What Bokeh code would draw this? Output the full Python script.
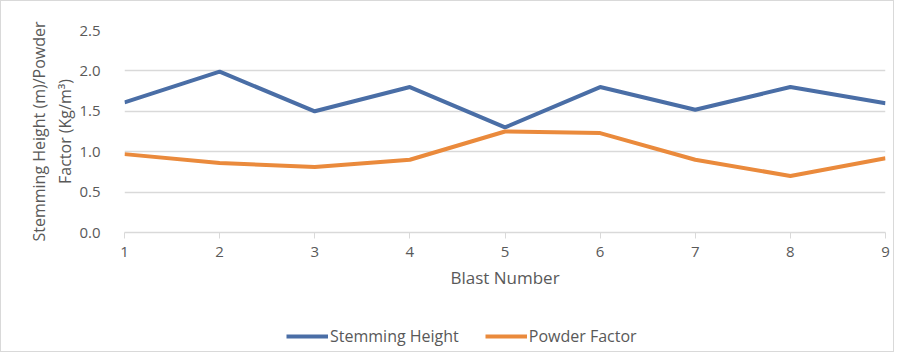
from bokeh.plotting import figure
from bokeh.layouts import column
from bokeh.models import (ColumnDataSource, Legend, LegendItem, FixedTicker, Range1d,
                          CustomJSTickFormatter)
from bokeh.embed import file_html
from bokeh.resources import INLINE

blast = [1, 2, 3, 4, 5, 6, 7, 8, 9]
stemming_height = [1.61, 1.99, 1.50, 1.80, 1.30, 1.80, 1.52, 1.80, 1.60]
powder_factor = [0.97, 0.86, 0.81, 0.90, 1.25, 1.23, 0.90, 0.70, 0.92]
y_ticks = [0.0, 0.5, 1.0, 1.5, 2.0, 2.5]
series_names = ["Stemming Height", "Powder Factor"]

FONT = "Open Sans"
TXT = "#595959"
BLUE = "#4A6EA6"
ORANGE = "#EA8A3C"

src = ColumnDataSource(dict(x=blast, sh=stemming_height, pf=powder_factor))

p = figure(width=892, height=300, output_backend="svg", toolbar_location=None,
           x_range=Range1d(1, 9), y_range=Range1d(0, 2.5),
           min_border_left=123, min_border_right=8, min_border_top=29, min_border_bottom=69)
p.outline_line_color = None
p.background_fill_color = "white"
p.border_fill_color = "white"

p.line("x", "sh", source=src, line_color=BLUE, line_width=4)
p.line("x", "pf", source=src, line_color=ORANGE, line_width=4)

p.xaxis.ticker = FixedTicker(ticks=blast)
p.yaxis.ticker = FixedTicker(ticks=y_ticks)
p.yaxis.formatter = CustomJSTickFormatter(code="return tick.toFixed(1);")

p.xgrid.grid_line_color = None
p.ygrid.grid_line_color = "#d9d9d9"
p.ygrid.grid_line_width = 1.5

p.xaxis.axis_line_color = "#d9d9d9"
p.xaxis.axis_line_width = 1.5
p.xaxis.major_tick_line_color = "#d9d9d9"
p.xaxis.major_tick_in = 0
p.xaxis.major_tick_out = 6
p.xaxis.minor_tick_line_color = None
p.xaxis.major_label_standoff = 8
p.xaxis.axis_label = "Blast Number"
p.xaxis.axis_label_standoff = 6

p.yaxis.axis_line_color = None
p.yaxis.major_tick_line_color = None
p.yaxis.minor_tick_line_color = None
p.yaxis.major_label_standoff = 18
p.yaxis.axis_label = "Stemming Height (m)/Powder\nFactor (Kg/m\u00b3)"
p.yaxis.axis_label_standoff = 0

for ax in (p.xaxis[0], p.yaxis[0]):
    ax.major_label_text_font = FONT
    ax.major_label_text_font_size = "15px"
    ax.major_label_text_color = TXT
    ax.axis_label_text_font = FONT
    ax.axis_label_text_font_size = "17px"
    ax.axis_label_text_font_style = "normal"
    ax.axis_label_text_color = TXT
p.yaxis.axis_label_text_font_size = "16px"

# legend strip below the chart (series drawn out of its view; only the legend shows)
q = figure(width=892, height=50, output_backend="svg", toolbar_location=None,
           x_range=Range1d(1, 9), y_range=Range1d(10, 11),
           min_border_left=0, min_border_right=0, min_border_top=0, min_border_bottom=0)
q.axis.visible = False
q.grid.visible = False
q.outline_line_color = None
q.border_fill_color = "white"
g1 = q.line("x", "sh", source=src, line_color=BLUE, line_width=4)
g2 = q.line("x", "pf", source=src, line_color=ORANGE, line_width=4)
legend = Legend(items=[LegendItem(label=series_names[0], renderers=[g1]),
                       LegendItem(label=series_names[1], renderers=[g2])],
                orientation="horizontal", location=(162, 4),
                label_text_font=FONT, label_text_font_size="16px", label_text_color=TXT,
                glyph_width=42, label_standoff=2, spacing=26,
                border_line_color=None, background_fill_alpha=0,
                margin=0, padding=0)
q.add_layout(legend, "center")

lay = column(p, q, spacing=0)
lay.styles = {"border": "1px solid #d9d9d9"}

open("out.html", "w").write(file_html(lay, INLINE))
